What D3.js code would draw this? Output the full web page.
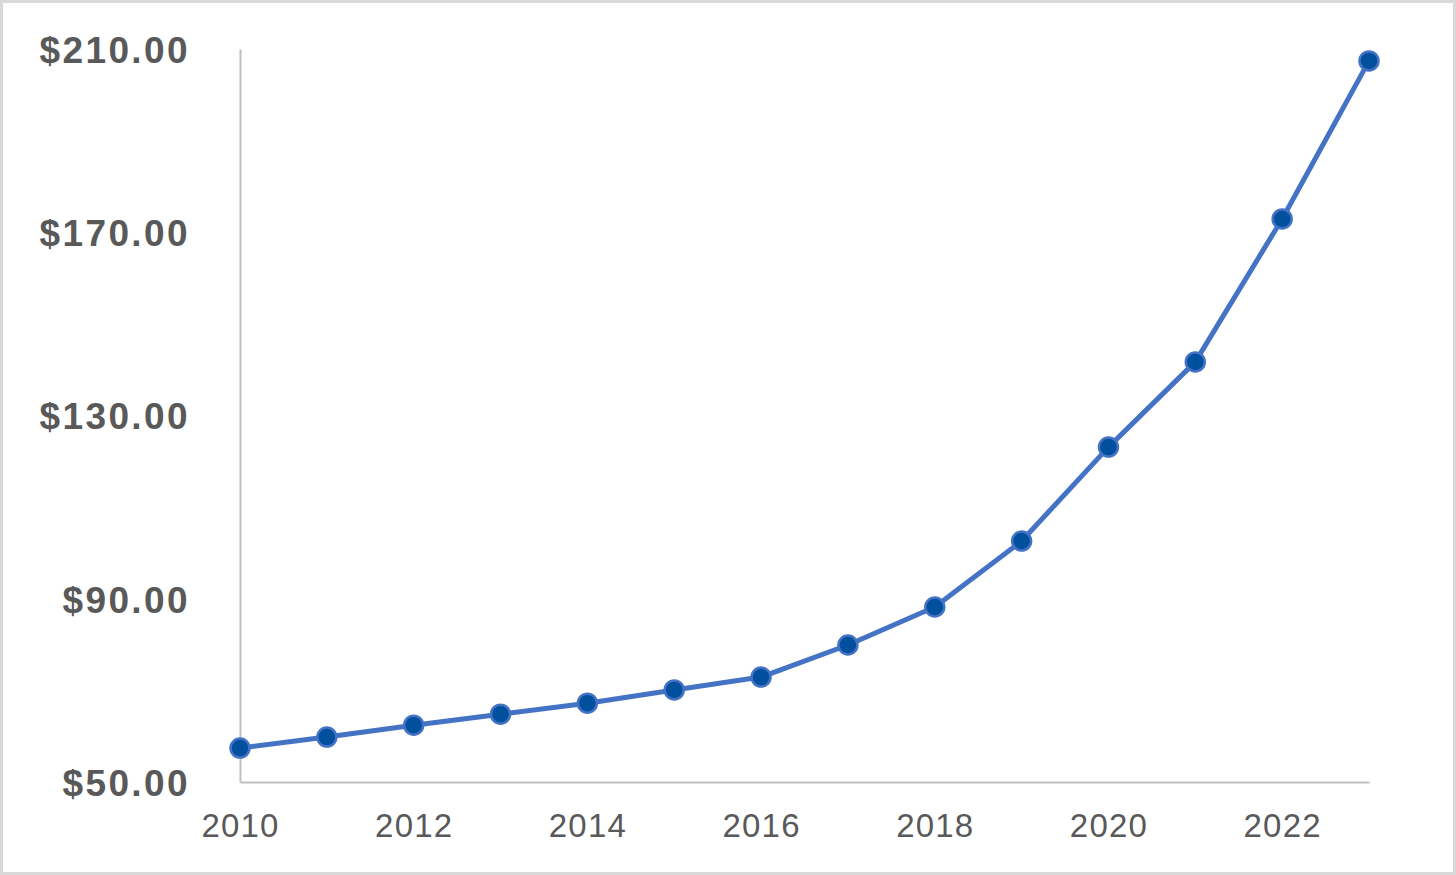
<!DOCTYPE html>
<html><head><meta charset="utf-8">
<script src="https://cdn.jsdelivr.net/npm/d3@7"></script>
<style>html,body{margin:0;padding:0;background:#fff;}svg{display:block;}</style>
</head><body><svg id="c" width="1456" height="875"></svg>
<script>
const years = [2010,2011,2012,2013,2014,2015,2016,2017,2018,2019,2020,2021,2022,2023];
const prices = [57.4,59.8,62.4,64.8,67.2,70.1,72.9,79.9,88.2,102.6,123.1,141.7,172.9,207.4];
const yTicks = [50,90,130,170,210];
const xTicks = [2010,2012,2014,2016,2018,2020,2022];

const svg = d3.select("#c");
svg.append("rect").attr("x",1.5).attr("y",1.5).attr("width",1453).attr("height",872)
  .attr("fill","#fff").attr("stroke","#d9d9d9").attr("stroke-width",3);

const x = d3.scaleLinear().domain([2010,2023]).range([240,1369]);
const y = d3.scaleLinear().domain([50,210]).range([782,49]);

const ya = svg.append("g").attr("transform","translate(240,0)")
  .call(d3.axisLeft(y).tickValues(yTicks).tickSize(0).tickPadding(50).tickFormat(d=>"$"+d3.format(".2f")(d)));
ya.select(".domain").attr("stroke","#bfbfbf").attr("stroke-width",2);
ya.selectAll("text").attr("font-family","Liberation Sans, Arial, sans-serif").attr("font-weight","bold")
  .attr("font-size",37).attr("fill","#595959").attr("letter-spacing","2.4px").attr("dy","0.36em");

const xa = svg.append("g").attr("transform","translate(0,782)")
  .call(d3.axisBottom(x).tickValues(xTicks).tickSize(0).tickPadding(32).tickFormat(d3.format("d")));
xa.select(".domain").attr("stroke","#bfbfbf").attr("stroke-width",2);
xa.selectAll("text").attr("font-family","Liberation Sans, Arial, sans-serif")
  .attr("font-size",33).attr("fill","#595959").attr("letter-spacing","1.2px");

const pts = years.map((yr,i)=>({yr, v:prices[i]}));
svg.append("path").datum(pts)
  .attr("d", d3.line().x(d=>x(d.yr)).y(d=>y(d.v)))
  .attr("fill","none").attr("stroke","#4472c4").attr("stroke-width",5).attr("stroke-linejoin","round");
svg.selectAll("circle.m").data(pts).enter().append("circle").attr("class","m")
  .attr("cx",d=>x(d.yr)).attr("cy",d=>y(d.v)).attr("r",9.5)
  .attr("fill","#00509d").attr("stroke","#4472c4").attr("stroke-width",2.5);
</script></body></html>
